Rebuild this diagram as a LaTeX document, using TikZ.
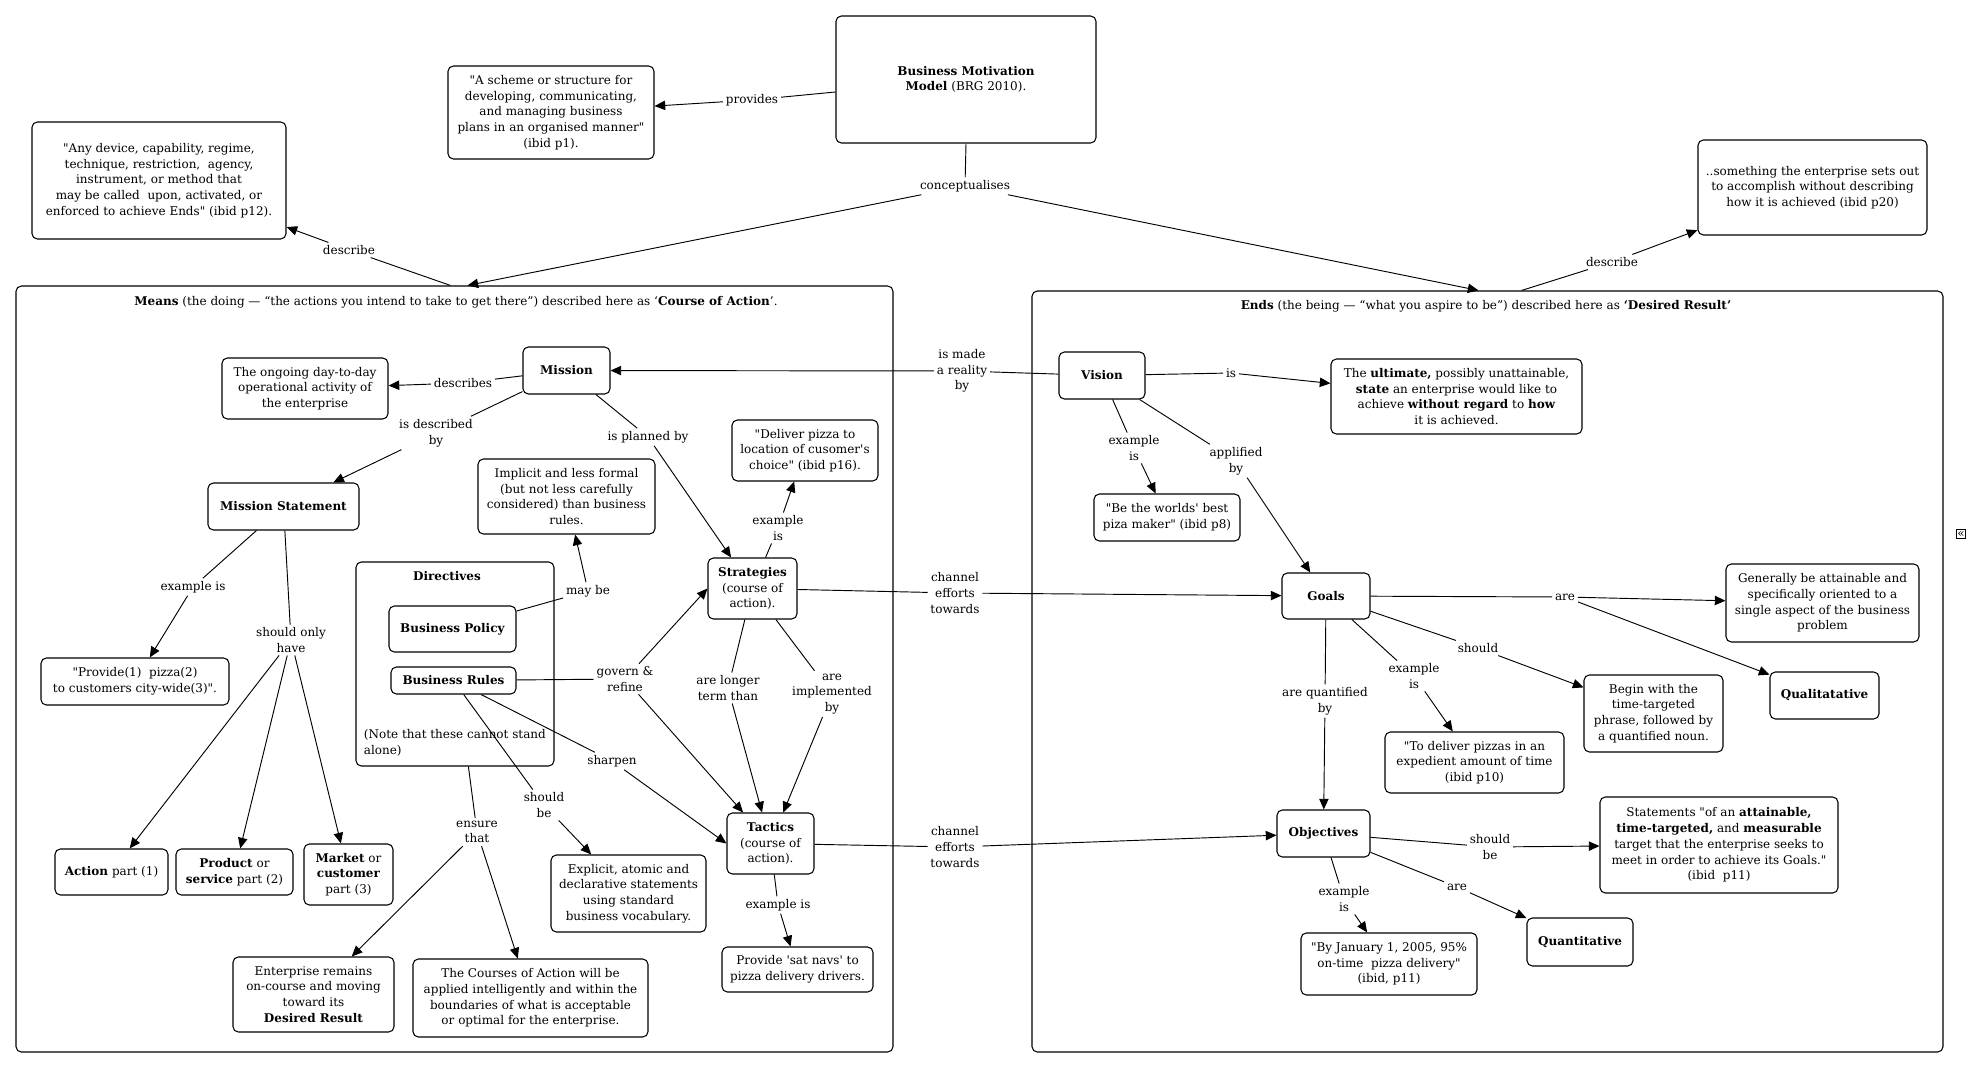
\documentclass[tikz,border=0pt]{standalone}
\usepackage{fontspec}
\newfontfamily\gfont{DejaVu Serif}
\usetikzlibrary{arrows.meta,calc}
\tikzset{
  box/.style={draw, line width=0.8pt, rounded corners=4pt, align=center, inner sep=1pt},
  lbl/.style={inner sep=2pt, align=center},
  conn/.style={draw, line width=0.7pt},
  arr/.style={conn, -{Triangle[length=8pt,width=7pt]}}
}
\newcommand\mybox[7][]{\node[box,#1,minimum width={(#5-#3)*0.75pt},minimum height={(#6-#4)*0.75pt}] (#2) at ({(#3+#5)/2},{(#4+#6)/2}) {#7};}
\begin{document}
\begin{tikzpicture}[x=0.75pt,y=-0.75pt,font=\gfont\fontsize{9}{11.8}\selectfont]
\useasboundingbox (0,0) rectangle (1970,1070);
% containers
\mybox{means}{16}{286}{893}{1052}{}
\mybox{ends}{1032}{291}{1943}{1052}{}
\node[lbl] (meanst) at (456,302) {\textbf{Means} (the doing — “the actions you intend to take to get there”) described here as ‘\textbf{Course of Action}’.};
\node[lbl] (endst) at (1486,306) {\textbf{Ends} (the being — “what you aspire to be”) described here as \textbf{‘Desired Result’}};
% top boxes
\mybox{bmm}{836}{16}{1096}{143}{\textbf{Business Motivation}\\\textbf{Model} (BRG 2010).}
\mybox{scheme}{448}{66}{654}{159}{"A scheme or structure for\\developing, communicating,\\and managing business\\plans in an organised manner"\\(ibid p1).}
\mybox{anydev}{32}{122}{286}{239}{"Any device, capability, regime,\\technique, restriction,~ agency,\\instrument, or method that\\may be called~ upon, activated, or\\enforced to achieve Ends" (ibid p12).}
\mybox{something}{1698}{140}{1927}{235}{..something the enterprise sets out\\to accomplish without describing\\how it is achieved (ibid p20)}
% means side
\mybox{mission}{523}{347}{610}{394}{\textbf{Mission}}
\mybox{ongoing}{222}{358}{388}{419}{The ongoing day-to-day\\operational activity of\\the enterprise}
\mybox{mstmt}{208}{483}{359}{530}{\textbf{Mission Statement}}
\mybox{provide}{41}{658}{229}{705}{"Provide(1)~ pizza(2)\\to customers city-wide(3)".}
\mybox{implicit}{478}{459}{655}{534}{Implicit and less formal\\(but not less carefully\\considered) than business\\rules.}
\mybox{deliver}{732}{420}{878}{481}{"Deliver pizza to\\location of cusomer's\\choice" (ibid p16).}
\mybox{strategies}{708}{558}{797}{619}{\textbf{Strategies}\\(course of\\action).}
\mybox{directives}{356}{562}{554}{766}{}
\node[lbl] (dirt) at (447,576) {\textbf{Directives}};
\mybox{bpolicy}{389}{606}{516}{652}{\textbf{Business Policy}}
\mybox{brules}{391}{667}{516}{694}{\textbf{Business Rules}}
\node[lbl, anchor=west, align=left] (note) at (361,743) {(Note that these cannot stand\\alone)};
\mybox{action}{55}{849}{168}{895}{\textbf{Action} part (1)}
\mybox{product}{176}{849}{293}{895}{\textbf{Product} or\\\textbf{service} part (2)}
\mybox{market}{304}{844}{393}{905}{\textbf{Market} or\\\textbf{customer}\\part (3)}
\mybox{enterprise}{233}{957}{394}{1032}{Enterprise remains\\on-course and moving\\toward its\\\textbf{Desired Result}}
\mybox{courses}{413}{959}{648}{1037}{The Courses of Action will be\\applied intelligently and within the\\boundaries of what is acceptable\\or optimal for the enterprise.}
\mybox{explicit}{551}{855}{706}{932}{Explicit, atomic and\\declarative statements\\using standard\\business vocabulary.}
\mybox{tactics}{727}{813}{814}{874}{\textbf{Tactics}\\(course of\\action).}
\mybox{satnav}{722}{947}{873}{992}{Provide 'sat navs' to\\pizza delivery drivers.}
% ends side
\mybox{vision}{1059}{352}{1145}{399}{\textbf{Vision}}
\mybox{ultimate}{1331}{359}{1582}{434}{The \textbf{ultimate,} possibly unattainable,\\\textbf{state} an enterprise would like to\\achieve \textbf{without regard} to \textbf{how}\\it is achieved.}
\mybox{be}{1094}{494}{1240}{541}{"Be the worlds' best\\piza maker" (ibid p8)}
\mybox{goals}{1282}{573}{1370}{619}{\textbf{Goals}}
\mybox{generally}{1726}{564}{1919}{642}{Generally be attainable and\\specifically oriented to a\\single aspect of the business\\problem}
\mybox{qualit}{1770}{672}{1879}{719}{\textbf{Qualitatative}}
\mybox{begin}{1584}{675}{1723}{752}{Begin with the\\time-targeted\\phrase, followed by\\a quantified noun.}
\mybox{todeliver}{1385}{732}{1564}{793}{"To deliver pizzas in an\\expedient amount of time\\(ibid p10)}
\mybox{objectives}{1277}{810}{1370}{857}{\textbf{Objectives}}
\mybox{statements}{1600}{797}{1838}{893}{Statements "of an \textbf{attainable,}\\\textbf{time-targeted,} and \textbf{measurable}\\target that the enterprise seeks to\\meet in order to achieve its Goals."\\(ibid~ p11)}
\mybox{quantitative}{1527}{918}{1633}{966}{\textbf{Quantitative}}
\mybox{byjan}{1301}{933}{1477}{995}{"By January 1, 2005, 95\%\\on-time~ pizza delivery"\\(ibid, p11)}
\node[draw, line width=0.6pt, inner sep=0.8pt, font=\gfont\fontsize{9}{9}\selectfont] (icon) at (1961,534) {«};
% labels
\node[lbl] (provides) at (752,100) {provides};
\node[lbl] (concept) at (965,186) {conceptualises};
\node[lbl] (describeL) at (349,250) {describe};
\node[lbl] (describeR) at (1612,262) {describe};
\node[lbl] (ismade) at (962,371) {is made\\a reality\\by};
\node[lbl] (describes) at (463,383) {describes};
\node[lbl] (isdescby) at (436,433) {is described\\by};
\node[lbl] (exis1) at (193,587) {example is};
\node[lbl] (shouldonly) at (291,640) {should only\\have};
\node[lbl] (planned) at (648,437) {is planned by};
\node[lbl] (exis2) at (778,528) {example\\is};
\node[lbl] (maybe) at (588,591) {may be};
\node[lbl] (govern) at (625,679) {govern \&\\refine};
\node[lbl] (longer) at (728,688) {are longer\\term than};
\node[lbl] (implemented) at (832,694) {are\\implemented\\by};
\node[lbl] (sharpen) at (612,761) {sharpen};
\node[lbl] (shouldbe) at (544,805) {should\\be};
\node[lbl] (ensure) at (477,832) {ensure\\that};
\node[lbl] (exis3) at (778,905) {example is};
\node[lbl] (channel1) at (955,593) {channel\\efforts\\towards};
\node[lbl] (channel2) at (955,847) {channel\\efforts\\towards};
\node[lbl] (is) at (1231,373) {is};
\node[lbl] (exis4) at (1134,448) {example\\is};
\node[lbl] (applied) at (1236,461) {applified\\by};
\node[lbl] (are1) at (1565,597) {are};
\node[lbl] (should) at (1478,648) {should};
\node[lbl] (exis5) at (1414,676) {example\\is};
\node[lbl] (quant) at (1325,701) {are quantified\\by};
\node[lbl] (shouldbe2) at (1490,847) {should\\be};
\node[lbl] (are2) at (1457,887) {are};
\node[lbl] (exis6) at (1344,899) {example\\is};
% connectors
\draw[conn] (bmm) -- (provides); \draw[arr] (provides) -- (scheme);
\draw[conn] (bmm.south) -- (concept);
\draw[arr] (concept) -- ($(means.north)+(13,0)$);
\draw[arr] (concept) -- ($(ends.north)+(-9,0)$);
\draw[conn] ($(means.north)+(-4,0)$) -- (describeL); \draw[arr] (describeL) -- (anydev);
\draw[conn] ($(ends.north)+(34,0)$) -- (describeR); \draw[arr] (describeR) -- (something);
\draw[conn] (vision) -- (ismade); \draw[arr] (ismade) -- (mission);
\draw[conn] (mission) -- (describes); \draw[arr] (describes) -- (ongoing);
\draw[conn] (mission) -- (isdescby); \draw[arr] (isdescby) -- (mstmt);
\draw[conn] (mstmt) -- (exis1); \draw[arr] (exis1) -- (provide);
\draw[conn] (mstmt) -- (shouldonly);
\draw[arr] (shouldonly) -- (action); \draw[arr] (shouldonly) -- (product); \draw[arr] (shouldonly) -- (market);
\draw[conn] (mission) -- (planned); \draw[arr] (planned) -- (strategies);
\draw[conn] (strategies) -- (exis2); \draw[arr] (exis2) -- (deliver);
\draw[conn] (bpolicy) -- (maybe); \draw[arr] (maybe) -- (implicit);
\draw[conn] (brules) -- (govern); \draw[arr] (govern) -- (strategies.west); \draw[arr] (govern) -- (tactics);
\draw[conn] (brules) -- (sharpen); \draw[arr] (sharpen) -- (tactics.west);
\draw[conn] (brules) -- (shouldbe); \draw[arr] (shouldbe) -- (explicit);
\draw[conn] (directives) -- (ensure); \draw[arr] (ensure) -- (enterprise); \draw[arr] (ensure) -- (courses);
\draw[conn] (strategies) -- (longer); \draw[arr] (longer) -- (tactics);
\draw[conn] (strategies) -- (implemented); \draw[arr] (implemented) -- (tactics);
\draw[conn] (tactics) -- (exis3); \draw[arr] (exis3) -- (satnav);
\draw[conn] (strategies) -- (channel1); \draw[arr] (channel1) -- (goals);
\draw[conn] (tactics) -- (channel2); \draw[arr] (channel2) -- (objectives);
\draw[conn] (vision) -- (is); \draw[arr] (is) -- (ultimate);
\draw[conn] (vision) -- (exis4); \draw[arr] (exis4) -- (be);
\draw[conn] (vision) -- (applied); \draw[arr] (applied) -- (goals);
\draw[conn] (goals) -- (are1); \draw[arr] (are1) -- (generally); \draw[arr] (are1) -- (qualit);
\draw[conn] (goals) -- (should); \draw[arr] (should) -- (begin);
\draw[conn] (goals) -- (exis5); \draw[arr] (exis5) -- (todeliver);
\draw[conn] (goals) -- (quant); \draw[arr] (quant) -- (objectives);
\draw[conn] (objectives) -- (shouldbe2); \draw[arr] (shouldbe2) -- (statements);
\draw[conn] (objectives) -- (are2); \draw[arr] (are2) -- (quantitative);
\draw[conn] (objectives) -- (exis6); \draw[arr] (exis6) -- (byjan);
\end{tikzpicture}
\end{document}
